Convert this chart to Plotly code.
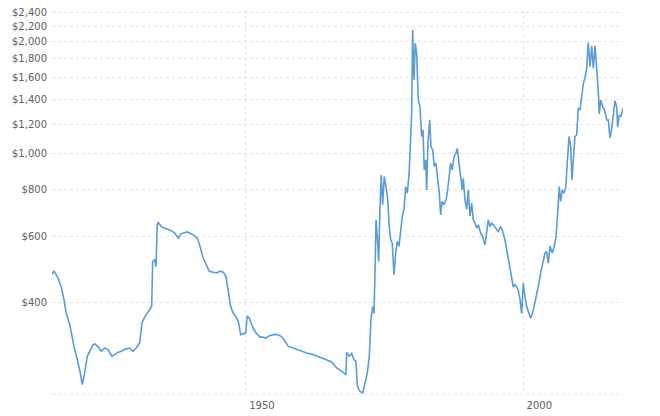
import math
import plotly.graph_objects as go

# Inflation-adjusted gold price (USD/oz)
years = [
    1915.03, 1915.39, 1916.11, 1916.70, 1917.19, 1917.60, 1918.22, 1918.63, 1919.12, 1919.59,
    1920.02, 1920.49, 1920.92, 1921.39, 1922.00, 1922.42, 1922.72, 1923.29, 1923.91, 1924.53,
    1925.12, 1925.84, 1926.33, 1926.90, 1927.52, 1928.24, 1929.03, 1929.63, 1930.22, 1930.84,
    1931.25, 1931.74, 1932.21, 1932.64, 1933.00, 1933.18, 1933.54, 1933.78, 1934.01, 1934.19,
    1934.80, 1935.40, 1935.99, 1936.61, 1937.20, 1937.80, 1938.23, 1938.82, 1939.42, 1939.90,
    1940.50, 1941.22, 1941.71, 1942.19, 1942.79, 1943.38, 1944.10, 1944.72, 1945.31, 1945.91,
    1946.39, 1946.81, 1947.24, 1947.71, 1948.20, 1948.61, 1949.04, 1949.51, 1949.95, 1950.23,
    1950.59, 1951.03, 1951.44, 1951.93, 1952.52, 1953.01, 1953.61, 1954.20, 1954.92, 1955.64,
    1956.44, 1957.03, 1957.63, 1958.53, 1959.73, 1960.94, 1962.13, 1963.34, 1964.55, 1965.45,
    1966.35, 1967.25, 1968.03, 1968.15, 1968.62, 1969.06, 1969.47, 1969.83, 1970.07, 1970.55,
    1971.04, 1971.45, 1971.87, 1972.23, 1972.53, 1972.84, 1973.08, 1973.26, 1973.44, 1973.67,
    1973.92, 1974.16, 1974.39, 1974.64, 1974.93, 1975.24, 1975.55, 1975.83, 1976.09, 1976.37,
    1976.68, 1976.99, 1977.28, 1977.58, 1977.89, 1978.18, 1978.48, 1978.79, 1979.08, 1979.39,
    1979.57, 1979.87, 1980.05, 1980.29, 1980.52, 1980.77, 1981.06, 1981.37, 1981.67, 1981.91,
    1982.14, 1982.40, 1982.58, 1982.81, 1983.12, 1983.35, 1983.66, 1983.95, 1984.25, 1984.56,
    1984.85, 1985.10, 1985.33, 1985.70, 1986.06, 1986.29, 1986.65, 1986.90, 1987.19, 1987.50,
    1987.86, 1988.09, 1988.40, 1988.71, 1989.00, 1989.17, 1989.48, 1989.79, 1990.08, 1990.38,
    1990.69, 1990.98, 1991.28, 1991.59, 1991.88, 1992.31, 1992.67, 1993.09, 1993.39, 1993.68,
    1993.99, 1994.29, 1994.58, 1995.07, 1995.48, 1995.92, 1996.28, 1996.69, 1997.11, 1997.59,
    1997.95, 1998.19, 1998.49, 1998.80, 1999.09, 1999.40, 1999.70, 1999.99, 2000.29, 2000.60,
    2001.02, 2001.32, 2001.68, 2002.10, 2002.40, 2002.82, 2003.13, 2003.49, 2003.90, 2004.21,
    2004.50, 2004.80, 2005.22, 2005.58, 2005.89, 2006.19, 2006.48, 2006.73, 2007.02, 2007.33,
    2007.64, 2007.92, 2008.23, 2008.54, 2008.77, 2009.01, 2009.31, 2009.62, 2009.91, 2010.21,
    2010.52, 2010.81, 2011.11, 2011.41, 2011.70, 2012.02, 2012.32, 2012.61, 2012.92, 2013.22,
    2013.51, 2013.69, 2013.95, 2014.31, 2014.72, 2015.03, 2015.32, 2015.62, 2015.93, 2016.22,
    2016.52, 2016.83, 2017.01, 2017.30, 2017.60, 2017.91, 2018.14,
]
prices = [
    475, 484, 464, 439, 406, 373, 348, 323, 298, 280,
    263, 240, 258, 286, 298, 307, 309, 304, 295, 301,
    298, 286, 289, 293, 295, 299, 301, 295, 301, 311,
    351, 365, 373, 381, 389, 514, 520, 498, 645, 654,
    636, 631, 627, 621, 612, 594, 610, 614, 617, 612,
    606, 594, 565, 530, 504, 484, 481, 479, 484, 481,
    469, 423, 389, 373, 365, 355, 327, 329, 330, 367,
    362, 348, 337, 329, 322, 322, 320, 325, 327, 327,
    323, 314, 304, 301, 296, 292, 289, 284, 280, 276,
    266, 261, 255, 293, 286, 291, 280, 277, 238, 230,
    228, 242, 258, 286, 359, 389, 373, 479, 665, 600,
    514, 722, 878, 730, 869, 817, 753, 638, 588, 576,
    473, 541, 582, 565, 638, 679, 708, 817, 784, 878,
    1004, 1286, 2150, 1580, 1983, 1862, 1396, 1339, 1113, 1160,
    906, 964, 800, 1068, 1234, 1046, 1025, 925, 944, 852,
    784, 686, 745, 730, 753, 784, 869, 944, 906, 983,
    1004, 1035, 944, 852, 800, 860, 753, 710, 800, 680,
    738, 665, 652, 632, 645, 612, 600, 570, 612, 665,
    638, 652, 645, 632, 619, 638, 619, 588, 541, 498,
    459, 439, 445, 439, 430, 406, 373, 450, 414, 389,
    373, 362, 373, 398, 423, 450, 479, 509, 541, 547,
    509, 565, 541, 565, 600, 693, 817, 745, 800, 784,
    809, 944, 1113, 1046, 850, 964, 1113, 1124, 1326, 1312,
    1425, 1540, 1600, 1690, 1990, 1714, 1950, 1700, 1950, 1714,
    1485, 1280, 1395, 1339, 1300, 1234, 1234, 1105, 1170, 1272,
    1390, 1339, 1180, 1272, 1259, 1315, 1334,
]

y_tick_values = [400, 600, 800, 1000, 1200, 1400, 1600, 1800, 2000, 2200, 2400]
y_tick_labels = ["$400", "$600", "$800", "$1,000", "$1,200", "$1,400", "$1,600",
                 "$1,800", "$2,000", "$2,200", "$2,400"]
x_tick_values = [1950, 2000]
x_tick_labels = ["1950", "2000"]

GRID = "#e3e3e3"
FONT = dict(family="DejaVu Sans, Verdana, sans-serif", size=10, color="#606060")

fig = go.Figure(
    go.Scatter(
        x=years, y=prices, mode="lines",
        line=dict(color="#5b9bd8", width=1.6),
        hoverinfo="skip", showlegend=False,
    )
)

fig.update_layout(
    width=660, height=416,
    margin=dict(l=52, r=37, t=10, b=22, autoexpand=False),
    paper_bgcolor="white", plot_bgcolor="white",
    font=FONT,
    xaxis=dict(
        range=[1915.03, 2017.97], automargin=False,
        tickmode="array", tickvals=x_tick_values, ticktext=x_tick_labels,
        showgrid=True, gridcolor=GRID, griddash="3px,3px", gridwidth=1,
        zeroline=False, showline=False, ticks="",
        tickfont=FONT, ticklabelshift=16, ticklabelstandoff=4,
    ),
    yaxis=dict(
        type="log", automargin=False,
        range=[math.log10(226.5), math.log10(2435)],
        tickmode="array", tickvals=y_tick_values, ticktext=y_tick_labels,
        showgrid=True, gridcolor=GRID, griddash="3px,3px", gridwidth=1,
        zeroline=False, showline=False, ticks="",
        tickfont=FONT, ticklabelstandoff=4,
    ),
    shapes=[dict(
        type="line", xref="paper", yref="paper", x0=0, x1=1, y0=0, y1=0,
        line=dict(color=GRID, width=1, dash="3px,3px"), layer="below",
    )],
)

fig.write_html(
    "out.html",
    config={"displayModeBar": False},
    post_script="document.body.style.margin='0';document.body.style.overflow='hidden';",
)
